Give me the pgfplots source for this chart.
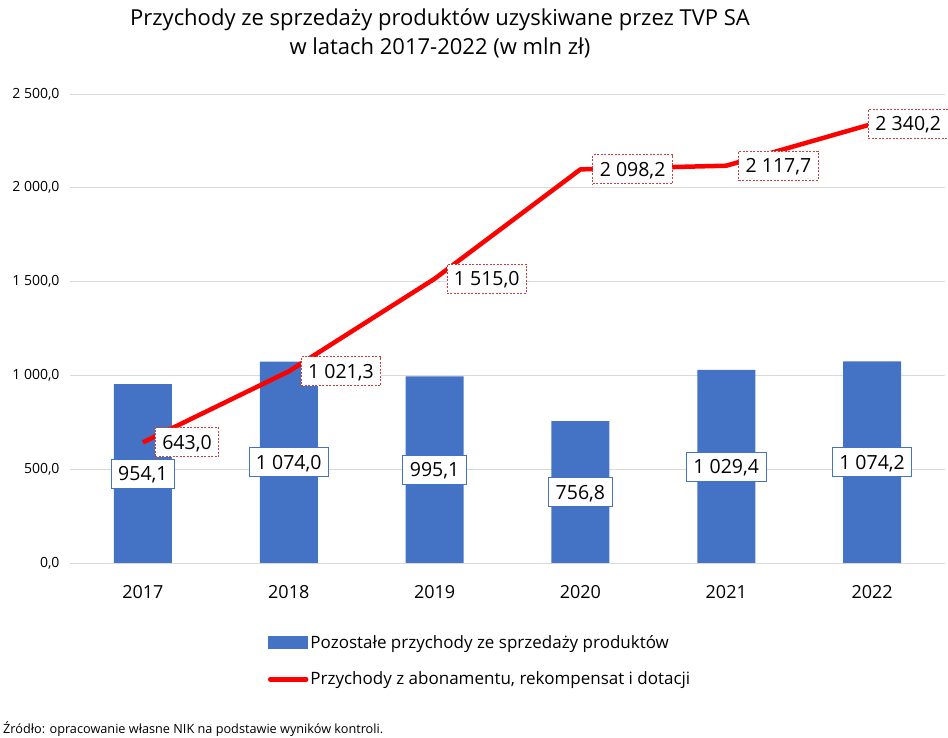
\documentclass[border=0pt]{standalone}
\usepackage{fontspec}
\setmainfont{Open Sans}
\usepackage{pgfplots}
\pgfplotsset{compat=1.18}
\usepackage{pgfplotstable}
\definecolor{barblue}{HTML}{4472C4}
\definecolor{linered}{HTML}{FF0000}
\definecolor{lblred}{HTML}{C84040}
\definecolor{gridgray}{HTML}{D9D9D9}

\pgfplotstableread[col sep=semicolon]{
x;bar;barlab
0;954.1;954,1
1;1074.0;1~074,0
2;995.1;995,1
3;756.8;756,8
4;1029.4;1~029,4
5;1074.2;1~074,2
}\bardata

\pgfplotstableread[col sep=semicolon]{
x;line;linelab
0;643.0;643,0
1;1021.3;1~021,3
2;1515.0;1~515,0
3;2098.2;2~098,2
4;2117.7;2~117,7
5;2340.2;2~340,2
}\linedata

\pgfplotstableread[col sep=semicolon]{
x;line;linelab
0;643.0;643,0
1;1021.3;1~021,3
2;1515.0;1~515,0
3;2098.2;2~098,2
4;2117.7;2~117,7
}\linelabA

\pgfplotstableread[col sep=semicolon]{
x;line;linelab
5;2340.2;2~340,2
}\linelabB

\tikzset{lbl/.style={fill=white, line width=0.8pt, font=\fontsize{19.5}{22}\selectfont,
  text height=14pt, text depth=0pt, inner xsep=7pt, inner ysep=7.5pt}}

\begin{document}
\begin{tikzpicture}[x=1pt,y=1pt]
\useasboundingbox (0,0) rectangle (948,738);
\node[align=center, font=\fontsize{22}{29}\selectfont, anchor=center] at (440,705) {Przychody ze sprzedaży produktów uzyskiwane przez TVP SA\\w latach 2017-2022 (w mln zł)};
\node[anchor=west, font=\fontsize{12.7}{14}\selectfont, inner sep=0pt] at (3,9) {Źródło: opracowanie własne NIK na podstawie wyników kontroli.};
\begin{axis}[
  at={(70pt,175pt)}, anchor=south west,
  scale only axis, width=875pt, height=469pt,
  xmin=-0.5, xmax=5.5, ymin=0, ymax=2500,
  clip=false,
  axis lines*=left,
  y axis line style={draw=none},
  x axis line style={draw=gridgray, line width=0.8pt},
  ymajorgrids, grid style={draw=gridgray, line width=0.8pt},
  major tick length=0pt,
  ytick={0,500,1000,1500,2000,2500},
  yticklabels={{0,0},{500,0},{1~000,0},{1~500,0},{2~000,0},{2~500,0}},
  yticklabel style={font=\fontsize{14}{16}\selectfont, xshift=-7pt},
  xtick={0,1,2,3,4,5},
  xticklabels={2017,2018,2019,2020,2021,2022},
  xticklabel style={font=\fontsize{18}{20}\selectfont, yshift=-19pt},
  legend style={at={(axis description cs:0.226,-0.150)}, anchor=north west,
    draw=none, fill=none, font=\fontsize{17}{20}\selectfont,
    row sep=18pt, inner sep=0pt, cells={anchor=west}},
  legend cell align=left,
]
\addplot[ybar, bar width=58pt, fill=barblue, draw=none, bar shift=0pt,
  area legend,
  legend image code/.code={\fill[barblue] (0pt,-6.5pt) rectangle (40pt,6.5pt);}]
  table[x=x, y=bar] {\bardata};
\addlegendentry{Pozostałe przychody ze sprzedaży produktów}
\addplot[linered, line width=4.5pt, line join=round, mark=none,
  legend image code/.code={\draw[linered, line width=4.5pt, line cap=round] (2pt,0pt) -- (38pt,0pt);}]
  table[x=x, y=line] {\linedata};
\addlegendentry{Przychody z abonamentu, rekompensat i dotacji}

\addplot[forget plot, draw=none, mark=none,
  nodes near coords, point meta=explicit symbolic,
  every node near coord/.append style={lbl, anchor=center, draw=barblue}]
  table[x=x, y expr=\thisrow{bar}/2, meta=barlab] {\bardata};

\addplot[forget plot, draw=none, mark=none,
  nodes near coords, point meta=explicit symbolic,
  every node near coord/.append style={lbl, anchor=west, xshift=12pt, draw=lblred,
    dash pattern=on 2pt off 1.5pt}]
  table[x=x, y=line, meta=linelab] {\linelabA};

\addplot[forget plot, draw=none, mark=none,
  nodes near coords, point meta=explicit symbolic,
  every node near coord/.append style={lbl, anchor=west, xshift=-4pt, draw=lblred,
    dash pattern=on 2pt off 1.5pt}]
  table[x=x, y=line, meta=linelab] {\linelabB};
\end{axis}
\end{tikzpicture}
\end{document}
